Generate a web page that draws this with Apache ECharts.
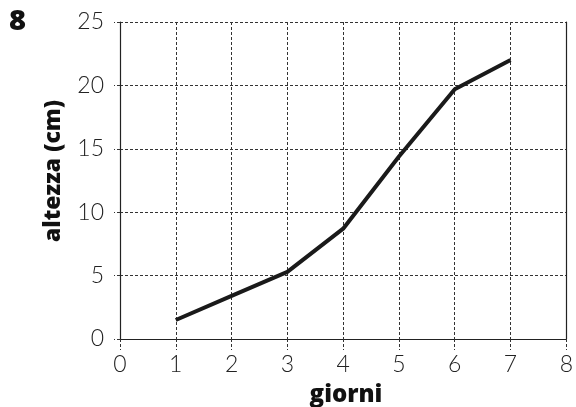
<!DOCTYPE html>
<html><head><meta charset="utf-8">
<script src="https://cdn.jsdelivr.net/npm/echarts@6/dist/echarts.min.js"></script>
<style>html,body{margin:0;padding:0;background:#fff}#c{width:576px;height:407px}</style>
</head><body><div id="c"></div>
<script>
var days = [1, 2, 3, 4, 5, 6, 7];
var heights = [1.5, 3.4, 5.3, 8.7, 14.4, 19.7, 22.0];
var xTicks = [0, 1, 2, 3, 4, 5, 6, 7, 8];
var yTicks = [0, 5, 10, 15, 20, 25];
var chartNumber = '8';
var xName = 'giorni';
var yName = 'altezza (cm)';

var chart = echarts.init(document.getElementById('c'), null, {renderer: 'canvas'});
var dashed = {color: '#333', width: 1, type: [3, 2]};
var labelFont = {color: '#222', fontSize: 23, fontFamily: 'Lato', fontWeight: 300};
var boldFont = {fontSize: 24, fontWeight: 800, fontFamily: 'Open Sans', fill: '#111'};
chart.setOption({
  animation: false,
  grid: {left: 120, right: 4, top: 22, bottom: 68},
  graphic: [
    {type: 'text', left: 9, top: 7, style: Object.assign({text: chartNumber}, boldFont, {fontSize: 29})},
    {type: 'text', x: 346, y: 395, style: Object.assign({text: xName, align: 'center', verticalAlign: 'middle'}, boldFont)},
    {type: 'text', x: 53, y: 171, rotation: Math.PI / 2, style: Object.assign({text: yName, align: 'center', verticalAlign: 'middle'}, boldFont, {fontSize: 23})}
  ],
  xAxis: {
    type: 'value', min: xTicks[0], max: xTicks[xTicks.length - 1], interval: 1,
    axisLine: {show: true, lineStyle: {color: '#222', width: 1.2}},
    axisTick: {show: true, length: 11, lineStyle: dashed},
    axisLabel: Object.assign({margin: 14}, labelFont),
    splitLine: {show: true, lineStyle: dashed}
  },
  yAxis: [{
    type: 'value', min: yTicks[0], max: yTicks[yTicks.length - 1], interval: 5,
    axisLine: {show: true, lineStyle: {color: '#222', width: 1.2}},
    axisTick: {show: true, length: 6, lineStyle: dashed},
    axisLabel: Object.assign({margin: 16}, labelFont),
    splitLine: {show: true, lineStyle: dashed}
  }, {
    type: 'value', min: yTicks[0], max: yTicks[yTicks.length - 1], interval: 5, position: 'right',
    axisLine: {show: true, lineStyle: {color: '#222', width: 1.2}},
    axisTick: {show: false}, axisLabel: {show: false}, splitLine: {show: false}
  }],
  series: [{
    type: 'line', data: days.map(function (d, i) { return [d, heights[i]]; }),
    showSymbol: false, lineStyle: {color: '#1a1a1a', width: 4}
  }]
});
</script></body></html>
